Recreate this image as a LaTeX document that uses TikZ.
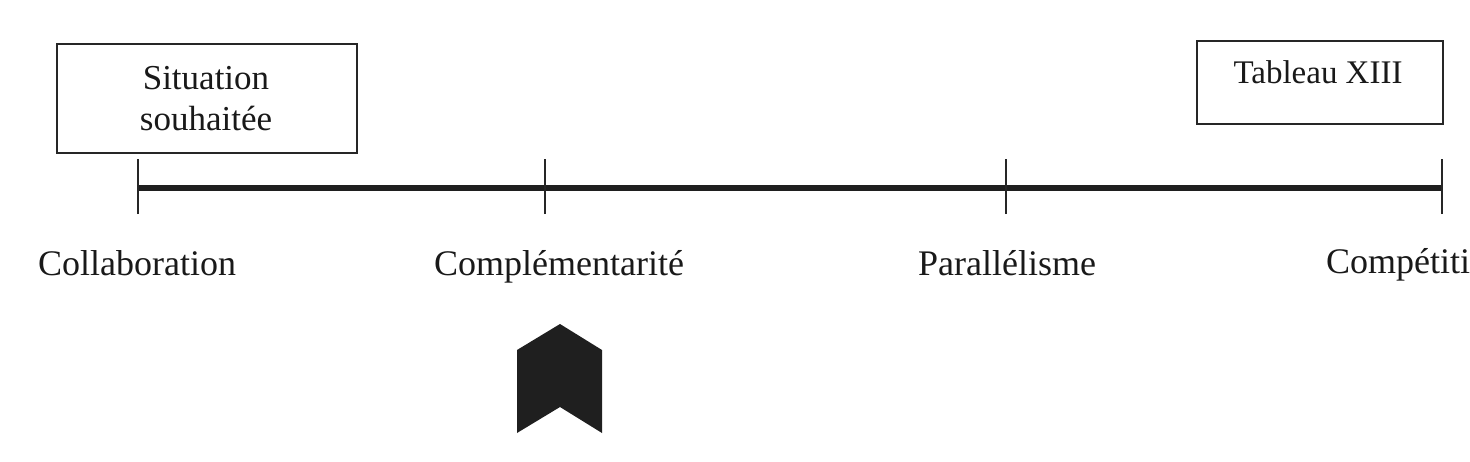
\documentclass[tikz,border=0pt]{standalone}
\usepackage{fontspec}
\setmainfont{Liberation Serif}
\begin{document}
\begin{tikzpicture}[x=1pt,y=-1pt,
  lbl/.style={font=\fontsize{36}{42}\selectfont, text=black!90, inner sep=0pt, anchor=base},
  boxed/.style={draw=black!85, line width=1.8pt, inner sep=0pt},
  tick/.style={draw=black!85, line width=1.8pt},
  axis/.style={draw=black!88, line width=6pt}]
\useasboundingbox (0,0) rectangle (1470,461);
% boxes
\node[boxed, minimum width=300, minimum height=109, anchor=north west] (sit) at (56,43) {};
\node[lbl, font=\fontsize{35}{41}\selectfont] (sit1) at (206,89) {Situation};
\node[lbl, font=\fontsize{35}{41}\selectfont] (sit2) at (206,130) {souhaitée};
\node[boxed, minimum width=246, minimum height=83, anchor=north west] (tab) at (1196,40) {};
\node[lbl, font=\fontsize{33}{40}\selectfont] (tabtext) at (1318,83) {Tableau XIII};
% axis
\coordinate (a) at (138,188);
\coordinate (b) at (545,188);
\coordinate (c) at (1006,188);
\coordinate (d) at (1442,188);
\draw[axis] (a) -- (d);
\foreach \p in {a,b,c,d}{
  \draw[tick] ([yshift=-26]\p) -- ([yshift=29]\p);
}
% labels
\node[lbl] (l1) at (137,275) {Collaboration};
\node[lbl] (l2) at (559,275) {Complémentarité};
\node[lbl] (l3) at (1007,275) {Parallélisme};
\node[lbl, anchor=base west] (l4) at (1326,273) {Compétiti};
% chevron
\fill[black!88] (560,324) -- (602,350) -- (602,433) -- (560,407) -- (517,433) -- (517,350) -- cycle;
\end{tikzpicture}
\end{document}
